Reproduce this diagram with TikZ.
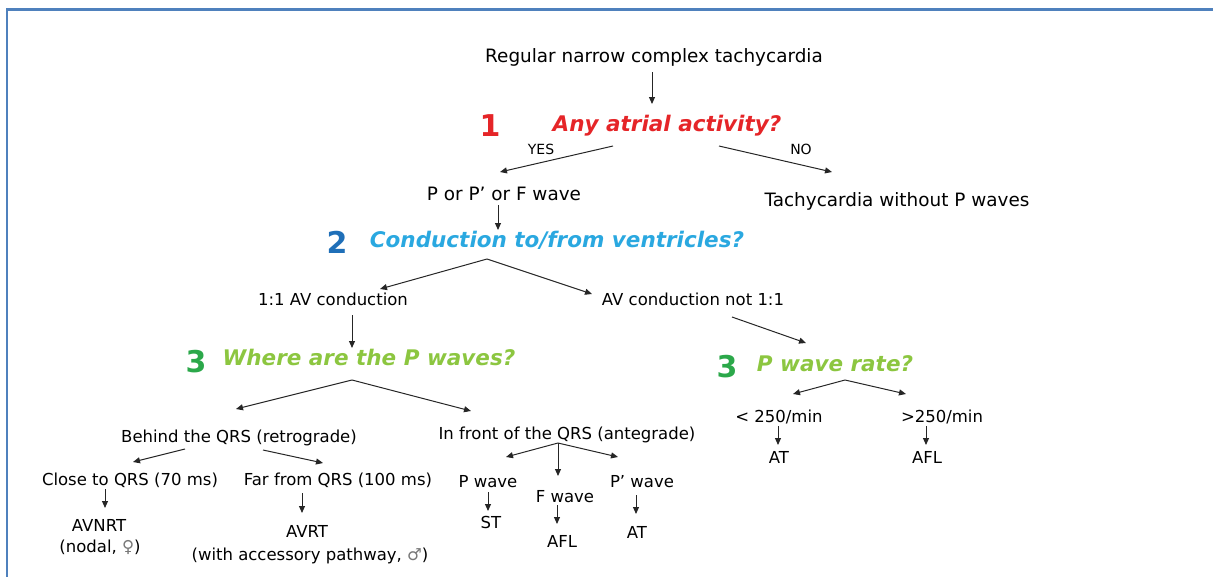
\documentclass[tikz,border=0pt]{standalone}
\usepackage{fontspec}
\setmainfont{DejaVu Sans}
\usetikzlibrary{arrows.meta}
\definecolor{cred}{RGB}{229,37,40}
\definecolor{cblue}{RGB}{31,111,184}
\definecolor{clblue}{RGB}{42,168,224}
\definecolor{cgreen}{RGB}{43,168,74}
\definecolor{clgreen}{RGB}{140,198,64}
\definecolor{cframe}{RGB}{79,129,189}
\definecolor{csym}{RGB}{120,120,120}
\begin{document}
\begin{tikzpicture}[x=1pt,y=-1pt,
 big/.style={font=\fontsize{18.4}{22}\selectfont, anchor=base, inner sep=0pt},
 sml/.style={font=\fontsize{16.5}{20}\selectfont, anchor=base, inner sep=0pt},
 tiny/.style={font=\fontsize{14}{16}\selectfont, anchor=base, inner sep=0pt},
 head/.style={font=\fontsize{21.5}{26}\selectfont\bfseries\itshape, anchor=base, inner sep=0pt},
 num/.style={font=\fontsize{30}{34}\selectfont\bfseries, anchor=base, inner sep=0pt},
 arr/.style={-{Triangle[length=7pt,width=6pt]}, line width=1pt, black!85}]
\useasboundingbox (0,0) rectangle (1213,576);
\draw[cframe, line width=2.5pt] (7,577) -- (7,9.5) -- (1214,9.5);

% nodes
\node[big] (top) at (654,62) {Regular narrow complex tachycardia};
\node[num,text=cred] (n1) at (490,136) {1};
\node[head,text=cred] (q1) at (667,131) {Any atrial activity?};
\node[tiny] (yes) at (541,154) {YES};
\node[tiny] (no) at (801,154) {NO};
\node[big] (pw) at (504,200) {P or P’ or F wave};
\node[big] (tw) at (897,206) {Tachycardia without P waves};
\node[num,text=cblue] (n2) at (337,253) {2};
\node[head,text=clblue] (q2) at (557,247) {Conduction to/from ventricles?};
\node[sml] (c11) at (333,305) {1:1 AV conduction};
\node[sml] (cn) at (693,305) {AV conduction not 1:1};
\node[num,text=cgreen] (n3a) at (196,372) {3};
\node[head,text=clgreen] (q3a) at (369,365) {Where are the P waves?};
\node[num,text=cgreen] (n3b) at (727,377) {3};
\node[head,text=clgreen] (q3b) at (835,371) {P wave rate?};
\node[sml] (lt) at (779,422) {< 250/min};
\node[sml] (gt) at (942,422) {>250/min};
\node[sml] (at1) at (779,463) {AT};
\node[sml] (afl1) at (927,463) {AFL};
\node[sml] (beh) at (239,442) {Behind the QRS (retrograde)};
\node[sml] (inf) at (567,439) {In front of the QRS (antegrade)};
\node[sml] (close) at (130,485) {Close to QRS (70 ms)};
\node[sml] (far) at (338,485) {Far from QRS (100 ms)};
\node[sml] (avnrt) at (99,531) {AVNRT};
\node[sml] (nodal) at (100,552) {(nodal, {\color{csym}♀})};
\node[sml] (avrt) at (307,537) {AVRT};
\node[sml] (acc) at (310,560) {(with accessory pathway, {\color{csym}♂})};
\node[sml] (pwv) at (488,487) {P wave};
\node[sml] (st) at (491,528) {ST};
\node[sml] (fwv) at (565,502) {F wave};
\node[sml] (afl2) at (562,547) {AFL};
\node[sml] (ppw) at (642,487) {P’ wave};
\node[sml] (at2) at (637,538) {AT};

% connector points
\coordinate (topS) at (652,72);   \coordinate (q1N) at (652,104);
\coordinate (q1L) at (613,146);   \coordinate (pwN) at (500,172);
\coordinate (q1R) at (719,146);   \coordinate (twN) at (832,172);
\coordinate (pwS) at (498,205);   \coordinate (q2N) at (498,230);
\coordinate (q2S) at (487,259);   \coordinate (c11N) at (380,289);
\coordinate (cnN) at (592,294);
\coordinate (c11S) at (352,315);  \coordinate (q3aN) at (352,348);
\coordinate (cnS) at (732,317);   \coordinate (q3bN) at (806,343);
\coordinate (q3bS) at (845,380);  \coordinate (ltN) at (793,394);
\coordinate (gtN) at (906,394);
\coordinate (ltS) at (778,426);   \coordinate (at1N) at (778,445);
\coordinate (gtS) at (926,426);   \coordinate (afl1N) at (926,445);
\coordinate (q3aS) at (352,380);  \coordinate (behN) at (236,409);
\coordinate (infN) at (471,411);
\coordinate (behL) at (185,449);  \coordinate (closeN) at (133,462);
\coordinate (behR) at (263,450);  \coordinate (farN) at (323,463);
\coordinate (closeS) at (105,489); \coordinate (avnrtN) at (105,508);
\coordinate (farS) at (302,493);  \coordinate (avrtN) at (302,513);
\coordinate (infS) at (558,443);  \coordinate (pwvN) at (506,457);
\coordinate (fwvN) at (558,476);  \coordinate (ppwN) at (618,457);
\coordinate (pwvS) at (488,492);  \coordinate (stN) at (488,511);
\coordinate (fwvS) at (557,505);  \coordinate (afl2N) at (557,524);
\coordinate (ppwS) at (636,495);  \coordinate (at2N) at (636,514);

% connectors
\draw[arr] (topS) -- (q1N);
\draw[arr] (q1L) -- (pwN);
\draw[arr] (q1R) -- (twN);
\draw[arr] (pwS) -- (q2N);
\draw[arr] (q2S) -- (c11N);
\draw[arr] (q2S) -- (cnN);
\draw[arr] (c11S) -- (q3aN);
\draw[arr] (cnS) -- (q3bN);
\draw[arr] (q3bS) -- (ltN);
\draw[arr] (q3bS) -- (gtN);
\draw[arr] (ltS) -- (at1N);
\draw[arr] (gtS) -- (afl1N);
\draw[arr] (q3aS) -- (behN);
\draw[arr] (q3aS) -- (infN);
\draw[arr] (behL) -- (closeN);
\draw[arr] (behR) -- (farN);
\draw[arr] (closeS) -- (avnrtN);
\draw[arr] (farS) -- (avrtN);
\draw[arr] (infS) -- (pwvN);
\draw[arr] (infS) -- (fwvN);
\draw[arr] (infS) -- (ppwN);
\draw[arr] (pwvS) -- (stN);
\draw[arr] (fwvS) -- (afl2N);
\draw[arr] (ppwS) -- (at2N);
\end{tikzpicture}
\end{document}
